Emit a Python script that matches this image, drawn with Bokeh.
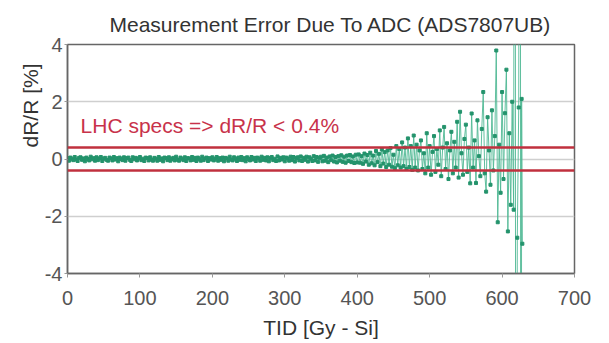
from bokeh.plotting import figure
from bokeh.models import Range1d, FixedTicker, Span, Label, Title
from bokeh.embed import file_html
from bokeh.resources import INLINE

# ---- data ----
tid_a = list(range(0, 401, 2))
err_a = [0.03, -0.06, 0.05, 0.01, -0.04, 0.07, -0.02, -0.07, 0.04, 0.06,
         -0.03, 0.02, -0.08, 0.05, 0.00, -0.05, 0.08, -0.01, 0.03, -0.06,
         0.06, -0.04, 0.02, 0.07, -0.07, 0.01, 0.04, -0.03, -0.06, 0.05,
         0.02, -0.05, 0.07, -0.02, 0.03, -0.08, 0.05, 0.00, -0.04, 0.06,
         -0.06, 0.03, 0.05, -0.03, -0.07, 0.06, -0.01, 0.04, -0.05, 0.02,
         0.07, -0.04, 0.01, -0.07, 0.05, 0.03, -0.05, 0.06, -0.02, -0.06,
         0.04, 0.01, -0.06, 0.07, -0.03, 0.02, -0.08, 0.05, 0.03, -0.04,
         0.06, -0.06, 0.00, 0.04, -0.05, 0.08, -0.02, -0.06, 0.05, 0.01,
         -0.04, 0.06, -0.07, 0.03, 0.02, -0.05, 0.07, -0.03, 0.04, -0.07,
         0.05, -0.01, -0.06, 0.08, -0.04, 0.02, 0.05, -0.07, 0.03, -0.02,
         0.06, -0.05, 0.01, 0.07, -0.06, 0.03, -0.03, 0.05, -0.08, 0.04,
         0.02, -0.06, 0.08, -0.02, -0.05, 0.06, 0.01, -0.07, 0.05, -0.03,
         0.07, -0.04, 0.03, -0.08, 0.06, 0.00, -0.05, 0.07, -0.02, 0.04,
         -0.07, 0.05, 0.02, -0.06, 0.08, -0.03, 0.04, -0.05, 0.06, -0.08,
         0.03, 0.07, -0.04, 0.01, -0.07, 0.09, -0.05, 0.04, -0.02, 0.06,
         -0.08, 0.05, 0.02, -0.06, 0.08, -0.04, 0.07, -0.09, 0.03, 0.06,
         -0.05, 0.09, -0.07, 0.04, -0.03, 0.08, -0.09, 0.06, 0.01, -0.07,
         0.10, -0.05, 0.07, -0.10, 0.04, 0.08, -0.08, 0.11, -0.06, 0.05,
         -0.11, 0.09, -0.04, 0.12, -0.09, 0.07, -0.12, 0.10, -0.06, 0.13,
         -0.10, 0.08, -0.13, 0.12, -0.07, 0.14, -0.11, 0.09, -0.14, 0.15,
         -0.12]

tid_b = list(range(402, 481, 2))
err_b = [0.16, -0.13, 0.10, -0.17, 0.19, -0.09, 0.14, -0.20, 0.22, -0.15,
         0.12, -0.22, 0.28, -0.11, 0.18, -0.25, 0.33, -0.16, 0.24, -0.28,
         0.30, -0.20, 0.38, -0.27, 0.15, -0.32, 0.45, -0.22, 0.35, -0.30,
         0.58, -0.25, 0.40, -0.35, 0.72, -0.28, 0.45, -0.38, 0.82, -0.30]

tid_c = list(range(482, 617, 2)) + [618, 619, 621, 623, 625, 626, 627, 628]
err_c = [0.50, -0.40, 0.30, 0.65, -0.35, 0.20, -0.50, 0.90, -0.30, 0.45,
         -0.55, 0.25, 0.80, -0.45, 0.35, -0.20, 1.00, -0.60, 0.40, 1.12,
         -0.35, 0.55, -0.70, 0.30, 0.95, -0.50, 0.60, -0.30, 1.30, -0.65,
         1.65, 0.20, -0.55, 0.70, 1.20, -0.45, 0.40, -0.85, 1.59, -0.30,
         0.65, -0.84, 1.35, 0.10, -0.60, 1.05, 2.34, -0.50, -1.14, 1.46,
         0.30, -0.90, 1.70, -0.40, 0.80, 3.79, -2.21, 0.50, -1.18, 2.34,
         -0.70, 1.60, 3.12, -2.53, 0.90, -1.60, 2.00, -1.77,
         40.0, -40.0, -2.75, 1.80, 40.0, -40.0, 2.10, -2.96]

tid = tid_a + tid_b + tid_c
err = err_a + err_b + err_c

spec_limit = 0.4
y_ticks = [-4, -2, 0, 2, 4]
y_tick_labels = {-4: "-4", -2: "-2", 0: "0", 2: "2", 4: "4"}
x_ticks = [0, 100, 200, 300, 400, 500, 600, 700]

FONT = "Liberation Sans"

p = figure(width=601, height=341, output_backend="svg", toolbar_location=None,
           x_range=Range1d(0, 700), y_range=Range1d(-4, 4),
           min_border_left=67, min_border_right=27, min_border_top=44,
           min_border_bottom=67)

p.title.text = "Measurement Error Due To ADC (ADS7807UB)"
p.title.text_font = FONT
p.title.text_font_size = "21px"
p.title.text_font_style = "normal"
p.title.text_color = "#333333"
p.title.align = "left"
p.title.offset = 42
p.title.standoff = 18

p.outline_line_color = "#666666"
p.outline_line_width = 1.5
p.background_fill_color = "white"
p.border_fill_color = "white"

p.xgrid.visible = False
p.ygrid.ticker = FixedTicker(ticks=y_ticks)
p.ygrid.grid_line_color = "#cfcfcf"
p.ygrid.grid_line_width = 1.5

for ax in (p.xaxis[0], p.yaxis[0]):
    ax.axis_line_color = "#666666"
    ax.axis_line_width = 1.5
    ax.major_tick_line_color = "#999999"
    ax.major_tick_in = 0
    ax.minor_tick_line_color = None
    ax.major_label_text_font = FONT
    ax.major_label_text_font_size = "20px"
    ax.major_label_text_color = "#555555"

p.xaxis.ticker = FixedTicker(ticks=x_ticks)
p.yaxis.ticker = FixedTicker(ticks=y_ticks)
p.yaxis.major_label_overrides = y_tick_labels
p.xaxis.major_tick_out = 4
p.yaxis.major_tick_out = 3
p.xaxis.major_label_standoff = 13
p.yaxis.major_label_standoff = 2
p.xaxis.axis_label = "TID [Gy - Si]"
p.xaxis.axis_label_text_font = FONT
p.xaxis.axis_label_text_font_size = "21px"
p.xaxis.axis_label_text_font_style = "normal"
p.xaxis.axis_label_text_color = "#333333"
p.xaxis.axis_label_standoff = 8

# y axis title, placed above centre as in the reference
p.add_layout(Title(text="dR/R [%]", align="right", offset=19, standoff=0,
                   text_font=FONT, text_font_size="21px",
                   text_font_style="normal", text_color="#333333"), "left")

# data
p.line(tid, err, line_color="#4fb894", line_width=1, line_alpha=0.9)
p.scatter(tid, err, marker="square", size=3, fill_color="#24936c",
          line_color="#24936c")

# spec limits
for lim in (spec_limit, -spec_limit):
    p.add_layout(Span(location=lim, dimension="width", line_color="#c0303e",
                      line_width=2.5))

p.add_layout(Label(x=18, y=1.18, text="LHC specs => dR/R < 0.4%",
                   text_align="left", text_baseline="middle",
                   text_font=FONT, text_font_size="21px", text_color="#c8324a"))

open("out.html", "w").write(file_html(p, INLINE))
